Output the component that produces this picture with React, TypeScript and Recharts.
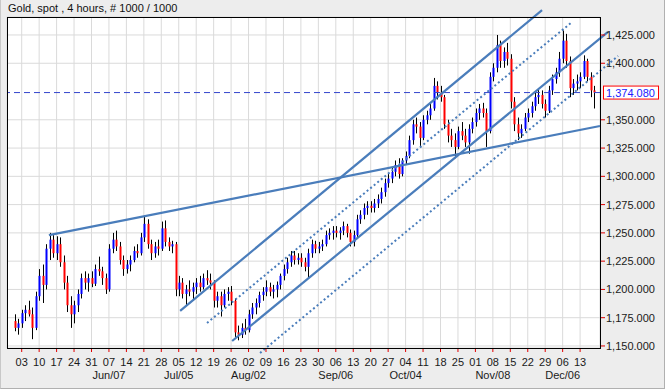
import { Bar, CartesianGrid, ComposedChart, ReferenceLine, XAxis, YAxis } from 'recharts';

type Ohlc = [number, number, number, number];

// daily bars [open, high, low, close], first bar is index -2 (Thu before May 03)
const mayBars: Ohlc[] = [
  [1172, 1178, 1163, 1166], [1166, 1174, 1160, 1170], [1170, 1182, 1166, 1179],
  [1179, 1186, 1172, 1182], [1182, 1190, 1176, 1178], [1178, 1184, 1156, 1166],
  [1166, 1198, 1164, 1194], [1194, 1218, 1190, 1212], [1212, 1222, 1188, 1204],
  [1204, 1240, 1200, 1236], [1236, 1250, 1226, 1244], [1244, 1248, 1228, 1232],
  [1232, 1247, 1226, 1240], [1240, 1246, 1220, 1224], [1224, 1230, 1200, 1206],
  [1206, 1212, 1180, 1186], [1186, 1194, 1166, 1178], [1178, 1190, 1170, 1186],
  [1186, 1200, 1180, 1196], [1196, 1214, 1192, 1210], [1210, 1216, 1200, 1206],
  [1206, 1214, 1198, 1210], [1210, 1216, 1202, 1205],
];
const junBars: Ohlc[] = [
  [1205, 1222, 1203, 1218], [1218, 1229, 1212, 1216], [1216, 1220, 1204, 1210],
  [1210, 1214, 1196, 1200], [1200, 1240, 1198, 1236], [1236, 1250, 1232, 1244],
  [1244, 1252, 1234, 1238], [1238, 1242, 1222, 1226], [1226, 1230, 1212, 1218],
  [1218, 1226, 1214, 1222], [1222, 1230, 1216, 1226], [1226, 1238, 1224, 1234],
  [1234, 1240, 1228, 1232], [1232, 1250, 1230, 1246], [1246, 1265, 1242, 1258],
  [1258, 1262, 1236, 1240], [1240, 1244, 1226, 1232], [1232, 1242, 1228, 1238],
  [1238, 1244, 1230, 1236], [1236, 1260, 1234, 1254], [1254, 1261, 1238, 1242],
  [1242, 1246, 1234, 1238], [1238, 1243, 1232, 1240], [1240, 1242, 1194, 1200],
];
const julBars: Ohlc[] = [
  [1200, 1212, 1194, 1206], [1206, 1210, 1192, 1196], [1196, 1204, 1186, 1200],
  [1200, 1208, 1194, 1198], [1198, 1206, 1190, 1202], [1202, 1210, 1196, 1206],
  [1206, 1212, 1198, 1202], [1202, 1214, 1200, 1210], [1210, 1217, 1204, 1208],
  [1208, 1214, 1200, 1206], [1206, 1208, 1184, 1190], [1190, 1198, 1184, 1194],
  [1194, 1198, 1176, 1186], [1186, 1200, 1184, 1196], [1196, 1202, 1190, 1198],
  [1198, 1203, 1186, 1190], [1190, 1192, 1158, 1162], [1162, 1168, 1155, 1160],
  [1160, 1170, 1157, 1166], [1166, 1174, 1160, 1164],
];
const augBars: Ohlc[] = [
  [1164, 1182, 1162, 1178], [1178, 1188, 1174, 1184], [1184, 1192, 1178, 1188],
  [1188, 1198, 1184, 1195], [1195, 1202, 1190, 1198], [1198, 1208, 1194, 1202],
  [1202, 1206, 1194, 1198], [1198, 1204, 1192, 1200], [1200, 1207, 1193, 1204],
  [1204, 1214, 1200, 1212], [1212, 1222, 1208, 1218], [1218, 1228, 1214, 1224],
  [1224, 1234, 1220, 1230], [1230, 1234, 1222, 1226], [1226, 1232, 1222, 1228],
  [1228, 1232, 1220, 1224], [1224, 1228, 1216, 1220], [1220, 1236, 1210, 1232],
  [1232, 1244, 1228, 1240], [1240, 1243, 1232, 1236], [1236, 1242, 1232, 1238],
];
const sepBars: Ohlc[] = [
  [1238, 1244, 1234, 1240], [1240, 1252, 1238, 1248], [1248, 1254, 1244, 1250],
  [1250, 1256, 1244, 1252], [1252, 1256, 1246, 1250], [1250, 1255, 1244, 1252],
  [1252, 1260, 1248, 1256], [1256, 1258, 1246, 1250], [1250, 1253, 1238, 1242],
  [1242, 1252, 1238, 1248], [1248, 1266, 1246, 1262], [1262, 1270, 1258, 1266],
  [1266, 1276, 1262, 1272], [1272, 1278, 1266, 1274], [1274, 1278, 1268, 1272],
  [1272, 1280, 1268, 1276], [1276, 1284, 1272, 1280], [1280, 1290, 1276, 1286],
  [1286, 1298, 1282, 1294], [1294, 1302, 1290, 1298], [1298, 1308, 1294, 1304],
  [1304, 1314, 1300, 1310], [1310, 1316, 1298, 1302], [1302, 1316, 1300, 1314],
];
const octBars: Ohlc[] = [
  [1314, 1322, 1310, 1318], [1318, 1336, 1316, 1332], [1332, 1350, 1328, 1346],
  [1346, 1352, 1338, 1344], [1344, 1348, 1326, 1334], [1334, 1354, 1332, 1350],
  [1350, 1358, 1346, 1354], [1354, 1364, 1350, 1360], [1360, 1387, 1358, 1380],
  [1380, 1384, 1368, 1374], [1374, 1380, 1366, 1370], [1370, 1372, 1342, 1346],
  [1346, 1350, 1330, 1336], [1336, 1342, 1326, 1332], [1332, 1338, 1316, 1326],
  [1326, 1344, 1324, 1340], [1340, 1348, 1332, 1336], [1336, 1342, 1326, 1330],
  [1330, 1346, 1320, 1342], [1342, 1352, 1338, 1348], [1348, 1360, 1344, 1356],
];
const novBars: Ohlc[] = [
  [1356, 1364, 1350, 1360], [1360, 1365, 1352, 1356], [1356, 1360, 1326, 1340],
  [1340, 1392, 1338, 1388], [1388, 1400, 1384, 1396], [1396, 1425, 1392, 1416],
  [1416, 1420, 1396, 1402], [1402, 1414, 1396, 1410], [1410, 1418, 1398, 1404],
  [1404, 1408, 1360, 1366], [1366, 1370, 1340, 1346], [1346, 1352, 1332, 1338],
  [1338, 1346, 1334, 1342], [1342, 1356, 1340, 1352], [1352, 1360, 1348, 1356],
  [1356, 1366, 1352, 1362], [1362, 1374, 1358, 1370], [1370, 1378, 1364, 1372],
  [1372, 1376, 1360, 1364], [1364, 1368, 1352, 1358], [1358, 1380, 1356, 1376],
];
const decBars: Ohlc[] = [
  [1376, 1390, 1372, 1386], [1386, 1396, 1382, 1392], [1392, 1410, 1388, 1404],
  [1404, 1429, 1400, 1420], [1420, 1426, 1396, 1402], [1402, 1406, 1370, 1378],
  [1378, 1386, 1372, 1382], [1382, 1390, 1376, 1384], [1384, 1392, 1378, 1388],
  [1388, 1407, 1386, 1402], [1402, 1404, 1384, 1388], [1388, 1392, 1370, 1376],
  [1376, 1380, 1360, 1374.08],
];

const FIRST_INDEX = -2;
const LAST_PRICE = 1374.08;

// weekly ticks, one every 5 bars, starting Mon May 03
const weekDays = ['03', '10', '17', '24', '31', '07', '14', '21', '28', '05', '12', '19', '26', '02', '09', '16', '23', '30', '06', '13', '20', '27', '04', '11', '18', '25', '01', '08', '15', '22', '29', '06', '13'];
const monthWeeks = [5, 9, 13, 18, 22, 27, 31];
const monthNames = ['Jun/07', 'Jul/05', 'Aug/02', 'Sep/06', 'Oct/04', 'Nov/08', 'Dec/06'];
const priceTicks = [1150, 1175, 1200, 1225, 1250, 1275, 1300, 1325, 1350, 1400, 1425];

// trend lines as [barIndex, price] pairs
const solidLines = [
  [[7.8, 1248], [165.7, 1344.5]],
  [[45.4, 1181], [149.1, 1447]],
  [[60.3, 1154.4], [168.0, 1427.7]],
];
const dottedLines = [
  [[53.1, 1170.3], [157.7, 1436.5]],
  [[68.3, 1143.8], [170.9, 1406.5]],
];

const weekTicks = weekDays.map((_, k) => k * 5);
const bars = [...mayBars, ...junBars, ...julBars, ...augBars, ...sepBars, ...octBars, ...novBars, ...decBars];
const data = bars.map(([o, h, l, c], k) => ({ i: FIRST_INDEX + k, o, h, l, c, range: [l, h] }));

const FONT = '"Liberation Sans", Arial, sans-serif';

function fmt(v: number) {
  const [a, b] = v.toFixed(3).split('.');
  return a.replace(/\B(?=(\d{3})+(?!\d))/g, ',') + '.' + b;
}

function Candle(props: any) {
  const { x, y, width, height, payload } = props;
  if (x == null || y == null) return null;
  const top = Math.min(y, y + height);
  const bottom = Math.max(y, y + height);
  const { o, h, l, c } = payload;
  const k = h - l > 0 ? (bottom - top) / (h - l) : 0;
  const cx = Math.round(x + width / 2) + 0.5;
  const yo = top + (h - o) * k;
  const yc = top + (h - c) * k;
  const bt = Math.min(yo, yc);
  const bh = Math.max(1, Math.abs(yc - yo));
  return (
    <g>
      <line x1={cx} x2={cx} y1={top} y2={bottom} stroke="#000" strokeWidth={1} />
      <rect x={cx - 1} y={bt} width={2} height={bh} fill={c >= o ? '#0000ff' : '#ff0000'} />
    </g>
  );
}

function DateTick({ x, y, payload }: any) {
  const week = weekTicks.indexOf(payload.value);
  const m = monthWeeks.indexOf(week);
  return (
    <g fontFamily={FONT} fontSize={11} fill="#1a1a1a">
      <text x={x} y={y + 12} textAnchor="middle">{weekDays[week]}</text>
      {m >= 0 && <text x={x} y={y + 25} textAnchor="middle">{monthNames[m]}</text>}
    </g>
  );
}

function PriceTick({ x, y, payload }: any) {
  return (
    <text x={x} y={y + 4} fontFamily={FONT} fontSize={11} fill="#1a1a1a">
      {fmt(payload.value)}
    </text>
  );
}

function PriceTag({ viewBox }: any) {
  if (!viewBox) return null;
  const px = viewBox.x + viewBox.width + 3;
  const py = viewBox.y;
  return (
    <g>
      <rect x={px + 0.5} y={py - 6.5} width={55} height={13} fill="#fff" stroke="#ff0000" />
      <text x={px + 3} y={py + 4} fontFamily={FONT} fontSize={11} fill="#2020ff">
        {fmt(LAST_PRICE)}
      </text>
    </g>
  );
}

export default function App() {
  return (
    <div style={{ position: 'absolute', left: 0, top: 0, width: 667, height: 392, background: '#fff' }}>
      <div
        style={{
          position: 'absolute', left: 0, top: 0, width: 665, height: 389, boxSizing: 'border-box',
          background: '#ededed', borderLeft: '1px solid #c8c8c8', borderRight: '1px solid #b0b0b0',
          borderBottom: '1px solid #b0b0b0',
        }}
      />
      <div style={{ position: 'absolute', left: 8, top: 2, fontFamily: FONT, fontSize: 11, lineHeight: '13px', color: '#111' }}>
        Gold, spot , 4 hours, # 1000 / 1000
      </div>
      <div style={{ position: 'absolute', left: 0, top: 0 }}>
        <ComposedChart width={667} height={392} data={data} margin={{ top: 17, right: 0, bottom: 0, left: 7 }}>
          <CartesianGrid stroke="#dadada" fill="#fff" />
          <XAxis
            type="number"
            dataKey="i"
            domain={[-4.21, 165.7]}
            allowDataOverflow
            ticks={weekTicks}
            interval={0}
            height={44}
            tickSize={4}
            tickMargin={2}
            tickLine={{ stroke: '#e00000' }}
            axisLine={false}
            tick={<DateTick />}
          />
          <YAxis
            orientation="right"
            type="number"
            domain={[1148.2, 1440.9]}
            allowDataOverflow
            ticks={priceTicks}
            interval={0}
            width={67}
            tickSize={5}
            tickMargin={1}
            tickLine={{ stroke: '#e00000' }}
            axisLine={false}
            tick={<PriceTick />}
          />
          <Bar dataKey="range" barSize={2} shape={<Candle />} isAnimationActive={false} />
          <ReferenceLine y={LAST_PRICE} stroke="#3344cc" strokeDasharray="6 4" strokeWidth={1} label={<PriceTag />} />
          {solidLines.map((s, k) => (
            <ReferenceLine
              key={'s' + k}
              segment={[{ x: s[0][0], y: s[0][1] }, { x: s[1][0], y: s[1][1] }]}
              ifOverflow="visible"
              stroke="#4a7dbb"
              strokeWidth={2.2}
            />
          ))}
          {dottedLines.map((s, k) => (
            <ReferenceLine
              key={'d' + k}
              segment={[{ x: s[0][0], y: s[0][1] }, { x: s[1][0], y: s[1][1] }]}
              ifOverflow="visible"
              stroke="#4a7dbb"
              strokeWidth={2}
              strokeDasharray="2 2.6"
            />
          ))}
        </ComposedChart>
      </div>
      <div
        style={{
          position: 'absolute', left: 7, top: 17, width: 594, height: 332, boxSizing: 'border-box',
          border: '1px solid #000', pointerEvents: 'none',
        }}
      />
    </div>
  );
}
